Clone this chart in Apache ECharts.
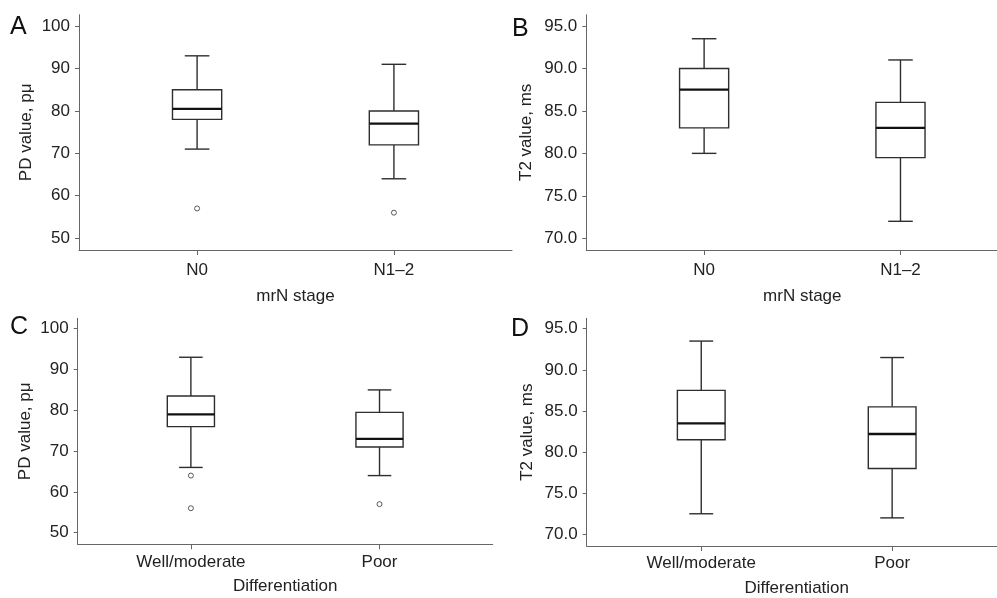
<!DOCTYPE html>
<html>
<head>
<meta charset="utf-8">
<script src="https://cdn.jsdelivr.net/npm/echarts@6/dist/echarts.min.js"></script>
<style>
html,body{margin:0;padding:0;background:#fff;}
#chart{width:997px;height:598px;}
</style>
</head>
<body>
<div id="chart"></div>
<script>
// ---- Data ----
const mrnCategories = ['N0', 'N1\u20132'];
const diffCategories = ['Well/moderate', 'Poor'];
// [min, Q1, median, Q3, max]
const pdByStage = [[71, 78, 80.5, 85, 93], [64, 72, 77, 80, 91]];
const pdByStageOutliers = [[0, 57], [1, 56]];          // [categoryIndex, value]
const t2ByStage = [[80, 83, 87.5, 90, 93.5], [72, 79.5, 83, 86, 91]];
const pdByDiff = [[66, 76, 79, 83.5, 93], [64, 71, 73, 79.5, 85]];
const pdByDiffOutliers = [[0, 64], [0, 56], [1, 57]];
const t2ByDiff = [[72.5, 81.5, 83.5, 87.5, 93.5], [72, 78, 82.2, 85.5, 91.5]];
const pdTicks = [50, 60, 70, 80, 90, 100];
const t2Ticks = [70, 75, 80, 85, 90, 95];

// ---- Styles ----
const BOX_W = 0.25;
const FONT = '"Liberation Sans", Arial, Helvetica, sans-serif';
const TXT = '#222';
const AX = '#666';
const LINE = '#2e2e2e';
const LW = 1.4;

const chart = echarts.init(document.getElementById('chart'));

function renderBox(params, api) {
  const x = api.value(0);
  const lo = api.value(1), q1 = api.value(2), med = api.value(3), q3 = api.value(4), hi = api.value(5);
  const half = api.size([BOX_W, 0])[0] / 2;
  const capHalf = half / 2;
  const c = v => api.coord([x, v]);
  const pLo = c(lo), pQ1 = c(q1), pMed = c(med), pQ3 = c(q3), pHi = c(hi);
  const cx = pLo[0];
  const line = (x1, y1, x2, y2, w, col) => ({
    type: 'line', shape: { x1, y1, x2, y2 }, style: { stroke: col, lineWidth: w }
  });
  return {
    type: 'group',
    children: [
      line(cx, pHi[1], cx, pQ3[1], LW, LINE),
      line(cx, pQ1[1], cx, pLo[1], LW, LINE),
      line(cx - capHalf, pHi[1], cx + capHalf, pHi[1], LW, LINE),
      line(cx - capHalf, pLo[1], cx + capHalf, pLo[1], LW, LINE),
      { type: 'rect', shape: { x: cx - half, y: pQ3[1], width: 2 * half, height: pQ1[1] - pQ3[1] },
        style: { fill: '#fff', stroke: LINE, lineWidth: LW } },
      line(cx - half, pMed[1], cx + half, pMed[1], 2.3, '#111')
    ]
  };
}

const panels = [
  { letter: 'A', grid: { left: 79, top: 14.7, width: 433, height: 235.3 }, yMin: 47.2, yMax: 102.7,
    ticks: pdTicks, dec: 0, yName: 'PD value, p\u03bc', yGap: 44, cats: mrnCategories, xName: 'mrN stage',
    xGap: 38, labMargin: 12, box: pdByStage, out: pdByStageOutliers, lt: { left: 10, top: 15 } },
  { letter: 'B', grid: { left: 586.3, top: 14.7, width: 432, height: 235.3 }, yMin: 68.62, yMax: 96.33,
    ticks: t2Ticks, dec: 1, yName: 'T2 value, ms', yGap: 51, cats: mrnCategories, xName: 'mrN stage',
    xGap: 38, labMargin: 12, box: t2ByStage, out: [], lt: { left: 512, top: 17 } },
  { letter: 'C', grid: { left: 77.7, top: 318.3, width: 415, height: 226 }, yMin: 47.16, yMax: 102.55,
    ticks: pdTicks, dec: 0, yName: 'PD value, p\u03bc', yGap: 44, cats: diffCategories, xName: 'Differentiation',
    xGap: 34, labMargin: 10, box: pdByDiff, out: pdByDiffOutliers, lt: { left: 10, top: 315 } },
  { letter: 'D', grid: { left: 586.7, top: 318.3, width: 420, height: 227.7 }, yMin: 68.58, yMax: 96.27,
    ticks: t2Ticks, dec: 1, yName: 'T2 value, ms', yGap: 51, cats: diffCategories, xName: 'Differentiation',
    xGap: 34, labMargin: 9, box: t2ByDiff, out: [], lt: { left: 511, top: 317 } }
];

const option = {
  animation: false,
  backgroundColor: '#fff',
  title: [], grid: [], xAxis: [], yAxis: [], series: []
};

panels.forEach((p, i) => {
  option.title.push({
    text: p.letter, left: p.lt.left, top: p.lt.top, padding: 0,
    textStyle: { fontFamily: FONT, fontSize: 25, fontWeight: 'normal', color: '#111' }
  });
  option.grid.push(Object.assign({ containLabel: false, outerBoundsMode: 'none' }, p.grid));
  const posTicks = p.cats.map((c, k) => k + 1);
  option.xAxis.push({
    gridIndex: i, type: 'value', min: 0.4, max: 2.6,
    name: p.xName, nameLocation: 'middle', nameGap: p.xGap,
    nameTextStyle: { fontFamily: FONT, fontSize: 17, color: TXT },
    axisLine: { show: true, onZero: false, lineStyle: { color: AX, width: 1 } },
    axisTick: { show: true, length: 5, customValues: posTicks, lineStyle: { color: AX } },
    axisLabel: {
      customValues: posTicks, margin: p.labMargin, fontFamily: FONT, fontSize: 17, color: TXT,
      formatter: v => p.cats[Math.round(v) - 1] || ''
    },
    splitLine: { show: false }
  });
  option.yAxis.push({
    gridIndex: i, type: 'value', min: p.yMin, max: p.yMax,
    name: p.yName, nameLocation: 'middle', nameGap: p.yGap,
    nameTextStyle: { fontFamily: FONT, fontSize: 17, color: TXT },
    axisLine: { show: true, onZero: false, lineStyle: { color: AX, width: 1 } },
    axisTick: { show: true, length: 4, customValues: p.ticks, lineStyle: { color: AX } },
    axisLabel: {
      customValues: p.ticks, margin: 9, fontFamily: FONT, fontSize: 17, color: TXT,
      formatter: v => Number(v).toFixed(p.dec)
    },
    splitLine: { show: false }
  });
  option.series.push({
    type: 'custom', xAxisIndex: i, yAxisIndex: i,
    renderItem: renderBox,
    encode: { x: 0, y: [1, 2, 3, 4, 5] },
    data: p.box.map((v, k) => [k + 1].concat(v)),
    z: 2
  });
  if (p.out.length) {
    option.series.push({
      type: 'scatter', xAxisIndex: i, yAxisIndex: i,
      symbol: 'circle', symbolSize: 5,
      itemStyle: { color: '#fff', borderColor: '#333', borderWidth: 1 },
      data: p.out.map(o => [o[0] + 1, o[1]]),
      z: 3
    });
  }
});

chart.setOption(option);
</script>
</body>
</html>
